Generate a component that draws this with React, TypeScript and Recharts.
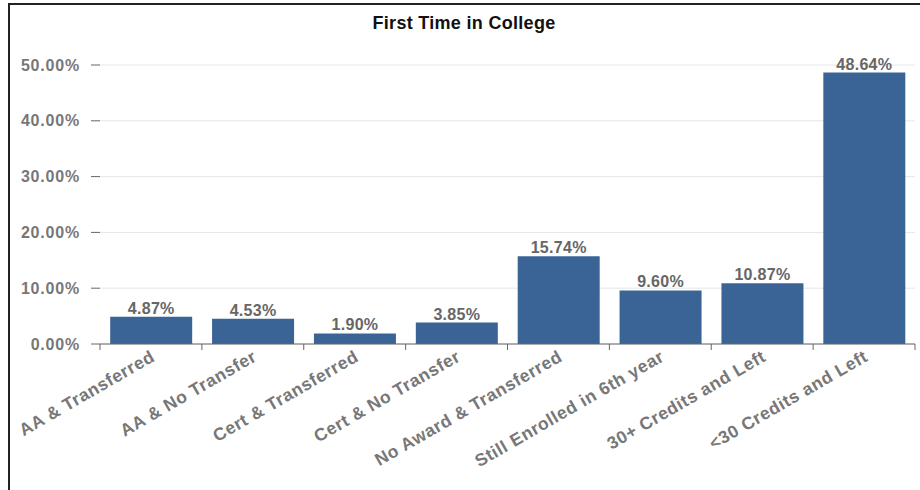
import { BarChart, Bar, XAxis, YAxis, CartesianGrid, LabelList } from 'recharts';

const categories = [
  'AA & Transferred',
  'AA & No Transfer',
  'Cert & Transferred',
  'Cert & No Transfer',
  'No Award & Transferred',
  'Still Enrolled in 6th year',
  '30+ Credits and Left',
  '<30 Credits and Left',
];
const percents = [4.87, 4.53, 1.9, 3.85, 15.74, 9.6, 10.87, 48.64];
const yTicks = [0, 10, 20, 30, 40, 50];

const data = categories.map((name, i) => ({ name, value: percents[i] }));

const FONT = 'Arial, "Liberation Sans", sans-serif';

// category label plus the tick marks that sit on the band edges
function RotatedTick({ x, y, payload, index, width, visibleTicksCount }: any) {
  const half = payload.offset || width / visibleTicksCount / 2;
  const last = index === visibleTicksCount - 1;
  return (
    <g>
      <line x1={x - half} x2={x - half} y1={y} y2={y + 6} stroke="#666" />
      {last && <line x1={x + half} x2={x + half} y1={y} y2={y + 6} stroke="#666" />}
      <text
        x={x + 5}
        y={y + 16}
        transform={`rotate(-30, ${x + 5}, ${y + 16})`}
        textAnchor="end"
        fontFamily={FONT}
        fontSize={17.5}
        letterSpacing={0.6}
        fontWeight="bold"
        fill="#777"
      >
        {payload.value}
      </text>
    </g>
  );
}

export default function App() {
  return (
    <div
      style={{
        position: 'fixed',
        left: 0,
        top: 0,
        width: 920,
        height: 490,
        overflow: 'hidden',
        background: '#fff',
        fontFamily: FONT,
      }}
    >
      <div
        style={{
          position: 'absolute',
          left: 8,
          top: 3,
          width: 930,
          height: 500,
          borderTop: '2px solid #222',
          borderLeft: '2px solid #222',
        }}
      />
      <div
        style={{
          position: 'absolute',
          left: 0,
          width: 928,
          top: 13,
          textAlign: 'center',
          fontSize: 18,
          letterSpacing: 0.3,
          fontWeight: 'bold',
          color: '#111',
        }}
      >
        First Time in College
      </div>
      <div style={{ position: 'absolute', left: 0, top: 0 }}>
        <BarChart
          width={920}
          height={490}
          data={data}
          margin={{ top: 65, right: 5, left: 10, bottom: 26 }}
          barCategoryGap="10%"
        >
          <CartesianGrid vertical={false} stroke="#e6e6e6" />
          <XAxis
            dataKey="name"
            height={120}
            interval={0}
            axisLine={{ stroke: '#666' }}
            tickLine={false}
            tickSize={0}
            tickMargin={0}
            tick={<RotatedTick />}
          />
          <YAxis
            width={90}
            domain={[0, 50]}
            ticks={yTicks}
            axisLine={false}
            tickLine={{ stroke: '#666' }}
            tickSize={9}
            tickMargin={11}
            tickFormatter={(v: number) => `${v.toFixed(2)}%`}
            tick={{ fontFamily: FONT, fontSize: 16, fontWeight: 'bold', fill: '#777', letterSpacing: 0.8 }}
          />
          <Bar dataKey="value" fill="#3a6496" isAnimationActive={false}>
            <LabelList
              dataKey="value"
              position="top"
              offset={3}
              formatter={(v: any) => `${Number(v).toFixed(2)}%`}
              style={{ fontFamily: FONT, fontSize: 16, fontWeight: 'bold', fill: '#666', letterSpacing: 0.3 }}
            />
          </Bar>
        </BarChart>
      </div>
    </div>
  );
}
